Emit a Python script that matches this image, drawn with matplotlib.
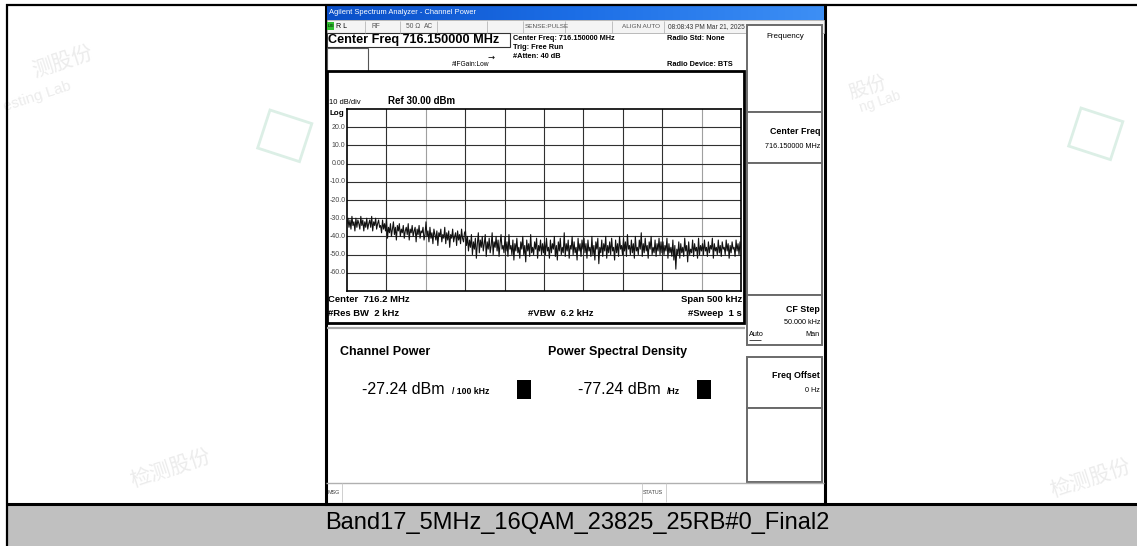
import matplotlib
matplotlib.use("Agg")
import matplotlib.pyplot as plt
import numpy as np
from matplotlib.patches import Rectangle

# ---------------- data ----------------
caption = "Band17_5MHz_16QAM_23825_25RB#0_Final2"
ref_level = 30.0          # dBm (top of grid)
db_per_div = 10.0
n_ydiv = 10
span_khz = 500.0
y_tick_labels = ["20.0", "10.0", "0.00", "-10.0", "-20.0", "-30.0", "-40.0", "-50.0", "-60.0"]
trace_dbm = [
    -33, -30, -35, -31, -36, -29, -34, -32, -37, -30, -35, -31, -33, -36, -29, -34, -31, -37, -32, -35,
    -30, -36, -33, -31, -35, -29, -37, -32, -34, -30, -36, -33, -31, -35, -34, -38, -31, -36, -33, -37,
    -30, -41, -35, -38, -33, -40, -36, -32, -39, -35, -42, -34, -37, -33, -40, -36, -38, -34, -41, -37,
    -35, -39, -33, -42, -36, -38, -34, -40, -37, -35, -43, -36, -39, -34, -41, -37, -38, -35, -42, -39,
    -32, -40, -37, -43, -35, -41, -38, -44, -36, -39, -42, -37, -45, -38, -40, -36, -43, -39, -41, -35,
    -44, -38, -42, -37, -46, -39, -41, -36, -43, -40, -38, -45, -37, -42, -39, -44, -36, -41, -43, -38,
    -37, -45, -40, -48, -42, -46, -39, -50, -43, -47, -41, -52, -44, -38, -49, -42, -46, -40, -48, -44,
    -39, -51, -43, -47, -41, -49, -45, -38, -50, -43, -46, -40, -48, -42, -51, -44, -39, -47, -45, -49,
    -40, -48, -43, -51, -39, -47, -45, -50, -42, -53, -44, -48, -41, -49, -46, -52, -43, -47, -40, -50,
    -45, -54, -42, -48, -44, -51, -39, -49, -46, -50, -43, -47, -41, -52, -45, -48, -42, -50, -44, -49,
    -43, -50, -41, -48, -46, -52, -42, -49, -44, -47, -40, -51, -45, -53, -43, -48, -41, -50, -46, -49,
    -38, -51, -44, -48, -42, -52, -45, -47, -40, -50, -43, -49, -46, -53, -41, -48, -44, -51, -42, -47,
    -41, -49, -44, -52, -42, -48, -46, -51, -40, -50, -45, -53, -43, -47, -41, -55, -46, -49, -42, -51,
    -44, -48, -40, -52, -45, -49, -43, -50, -41, -48, -46, -53, -42, -49, -44, -51, -40, -47, -45, -50,
    -41, -48, -43, -51, -39, -47, -45, -50, -42, -49, -44, -52, -40, -48, -46, -50, -42, -47, -38, -51,
    -44, -49, -41, -48, -45, -52, -43, -47, -40, -50, -46, -49, -42, -51, -44, -48, -41, -50, -43, -49,
    -43, -50, -45, -48, -41, -52, -44, -49, -46, -51, -42, -53, -45, -58, -47, -50, -43, -52, -44, -49,
    -46, -51, -41, -48, -45, -54, -43, -50, -47, -49, -42, -51, -44, -48, -46, -52, -41, -50, -45, -48,
    -44, -50, -42, -48, -46, -51, -43, -49, -45, -47, -41, -52, -44, -48, -46, -50, -42, -49, -45, -51,
    -43, -47, -46, -50, -42, -48, -44, -52, -45, -49, -43, -47, -46, -51, -42, -48, -44, -50, -43, -47,
]
channel_power = "-27.24 dBm"
psd = "-77.24 dBm"

# ---------------- figure ----------------
W, H = 1137, 546
fig = plt.figure(figsize=(W / 100, H / 100), dpi=100)
fig.patch.set_facecolor("white")
ax0 = fig.add_axes([0, 0, 1, 1])
ax0.set_xlim(0, W)
ax0.set_ylim(H, 0)
ax0.axis("off")

SANS = ["Liberation Sans", "DejaVu Sans"]
NARROW = ["Liberation Sans Narrow", "Liberation Sans", "DejaVu Sans"]
CJK = ["Noto Sans CJK SC", "DejaVu Sans"]


def rect(x0, y0, x1, y1, fc="none", ec="none", lw=1.0, z=1):
    ax0.add_patch(Rectangle((x0, y0), x1 - x0, y1 - y0, facecolor=fc, edgecolor=ec, lw=lw, zorder=z))


def hline(y, x0, x1, c="black", lw=1.0, z=3):
    ax0.plot([x0, x1], [y, y], color=c, lw=lw, zorder=z, solid_capstyle="butt")


def vline(x, y0, y1, c="black", lw=1.0, z=3):
    ax0.plot([x, x], [y0, y1], color=c, lw=lw, zorder=z, solid_capstyle="butt")


def txt(x, y, s, size=6, ha="left", va="center", weight="normal", color="black", fam=SANS, z=5, **kw):
    ax0.text(x, y, s, fontsize=size, ha=ha, va=va, fontweight=weight, color=color, family=fam, zorder=z, **kw)


# watermarks (very faint)
wm = "#ececec"
for (x, y, s, sz, ha) in [(62, 62, "测股份", 15, "center"), (2, 96, "esting Lab", 11, "left"),
                          (868, 88, "股份", 14, "center"), (880, 102, "ng Lab", 10, "center"),
                          (170, 468, "检测股份", 15, "center"), (1090, 478, "检测股份", 15, "center")]:
    txt(x, y, s, size=sz, ha=ha, color=wm, fam=CJK if not s[0].isascii() else SANS, rotation=18, z=0.5)
for (x, y) in [(292, 132), (1103, 130)]:
    ax0.add_patch(Rectangle((x - 22, y - 22), 44, 40, angle=18, facecolor="none", edgecolor="#dcefe6", lw=2, zorder=0.5))

# outer frame + caption band
rect(6.5, 505, W + 2, H + 2, fc="#c0c0c0", z=0.8)
hline(4.5, 6, W, lw=1.6)
vline(6.5, 4, H, lw=1.6)
hline(504, 6, W, lw=2.2)
txt(577, 523.5, caption, size=17, ha="center", fam=SANS)

# screenshot panel
rect(325.5, 5, 824.5, 503.5, fc="white", ec="black", lw=2.2, z=1)

# blue title bar (gradient)
grad = np.linspace(0, 1, 256).reshape(1, -1)
cmap = matplotlib.colors.LinearSegmentedColormap.from_list("bb", ["#0a4fc8", "#1c6ee6", "#3d8ff5"])
ax0.imshow(grad, extent=(326.5, 823.5, 20, 5.8), cmap=cmap, aspect="auto", zorder=2)
ax0.set_xlim(0, W)
ax0.set_ylim(H, 0)
txt(329, 13, "Agilent Spectrum Analyzer - Channel Power", size=5.4, color="white", fam=NARROW, z=6)

# status row
rect(326.5, 20, 823.5, 33, fc="#f4f4f4", ec="#b0b0b0", lw=0.6, z=2)
for x in [365, 400, 437, 487, 523, 565, 612, 664]:
    vline(x, 20.5, 32.5, c="#b8b8b8", lw=0.6)
rect(327, 21.5, 334, 30, fc="#2fbf2f", z=3)
txt(327.5, 26, "LXI", size=3.2, color="black", fam=NARROW, z=6)
txt(336, 26.5, "R L", size=5.0, fam=NARROW)
txt(371, 26.5, "RF", size=4.8, color="#555555", fam=NARROW)
txt(406, 26.5, "50 Ω", size=4.8, color="#555555", fam=NARROW)
txt(424, 26.5, "AC", size=4.8, color="#555555", fam=NARROW)
txt(525, 26.5, "SENSE:PULSE", size=4.6, color="#555555", fam=NARROW)
txt(622, 26.5, "ALIGN AUTO", size=4.6, color="#555555", fam=NARROW)
txt(668, 26.5, "08:08:43 PM Mar 21, 2025", size=4.7, color="#333333", fam=NARROW)

# center freq row
rect(326.5, 33, 510, 47, fc="white", ec="#333333", lw=0.8, z=2)
txt(328, 40.5, "Center Freq 716.150000 MHz", size=9.1, weight="bold", fam=SANS)
rect(327, 48, 368, 72, fc="white", ec="#555555", lw=0.8, z=2)
txt(452, 65, "#IFGain:Low", size=4.8, fam=NARROW)
txt(487, 57, "→", size=6, fam=["DejaVu Sans"])
txt(513, 38, "Center Freq: 716.150000 MHz", size=5.3, weight="bold", fam=NARROW)
txt(513, 47.5, "Trig: Free Run", size=5.3, weight="bold", fam=NARROW)
txt(513, 57, "#Atten: 40 dB", size=5.3, weight="bold", fam=NARROW)
txt(667, 38, "Radio Std: None", size=5.3, weight="bold", fam=NARROW)
txt(667, 65, "Radio Device: BTS", size=5.3, weight="bold", fam=NARROW)

# graph frame
rect(327, 71, 743.5, 323, fc="white", ec="black", lw=2.0, z=2)
hline(328, 327, 745, c="#a8a8a8", lw=1.6)
txt(329, 102.5, "10 dB/div", size=5.4, fam=NARROW)
txt(388, 101.5, "Ref 30.00 dBm", size=7.0, weight="bold", fam=SANS)
txt(329, 113.5, "Log", size=5.8, weight="bold", fam=NARROW)
txt(328, 300, "Center  716.2 MHz", size=6.8, weight="bold", fam=SANS)
txt(742, 300, "Span 500 kHz", size=6.8, weight="bold", ha="right", fam=SANS)
txt(327.5, 313, "#Res BW  2 kHz", size=6.8, weight="bold", fam=SANS)
txt(528, 313, "#VBW  6.2 kHz", size=6.8, weight="bold", fam=SANS)
txt(742, 313, "#Sweep  1 s", size=6.8, weight="bold", ha="right", fam=SANS)

# plot area
gx0, gx1, gy0, gy1 = 347, 741, 109, 291
axp = fig.add_axes([gx0 / W, 1 - gy1 / H, (gx1 - gx0) / W, (gy1 - gy0) / H])
axp.set_zorder(5)
bottom = ref_level - n_ydiv * db_per_div
freqs = np.linspace(-span_khz / 2, span_khz / 2, len(trace_dbm))
axp.set_xlim(-span_khz / 2, span_khz / 2)
axp.set_ylim(bottom, ref_level)
for i in range(1, 10):
    xv = -span_khz / 2 + i * span_khz / 10
    col = "#a0a0a0" if i in (2, 9) else "#303030"
    axp.axvline(xv, color=col, lw=0.8, zorder=1)
for i in range(1, n_ydiv):
    axp.axhline(bottom + i * db_per_div, color="#303030", lw=0.8, zorder=1)
axp.plot(freqs, trace_dbm, color="#111111", lw=0.8, zorder=3)
axp.set_xticks([])
axp.set_yticks([])
for s in axp.spines.values():
    s.set_color("black")
    s.set_linewidth(1.2)

yt_vals = [ref_level - (i + 1) * db_per_div for i in range(len(y_tick_labels))]
for lab, v in zip(y_tick_labels, yt_vals):
    ypix = gy0 + (ref_level - v) / (n_ydiv * db_per_div) * (gy1 - gy0)
    txt(345.5, ypix, lab, size=5.0, ha="right", color="#444444", fam=NARROW)

# measurement panel
txt(340, 352, "Channel Power", size=9.0, fam=SANS, weight="bold")
txt(548, 352, "Power Spectral Density", size=9.0, fam=SANS, weight="bold")
txt(362, 389, channel_power, size=11.5, fam=SANS)
txt(452, 391, "/ 100 kHz", size=6.3, fam=SANS, weight="bold")
rect(517, 380, 531, 399, fc="black", z=3)
txt(578, 389, psd, size=11.5, fam=SANS)
txt(667, 391, "/Hz", size=6.3, fam=SANS, weight="bold")
rect(697, 380, 711, 399, fc="black", z=3)

# right softkey panel
kc = "#6a6a6a"
rect(747, 25, 822, 112, fc="white", ec=kc, lw=1.4, z=2)
rect(747, 112, 822, 163, fc="white", ec=kc, lw=1.4, z=2)
rect(747, 163, 822, 295, fc="white", ec=kc, lw=1.4, z=2)
rect(747, 295, 822, 345, fc="white", ec=kc, lw=1.4, z=2)
rect(747, 357, 822, 408, fc="white", ec=kc, lw=1.4, z=2)
rect(747, 408, 822, 482, fc="white", ec=kc, lw=1.4, z=2)
txt(785, 37, "Frequency", size=5.8, ha="center", fam=SANS)
txt(820, 132, "Center Freq", size=6.4, ha="right", weight="bold", fam=NARROW)
txt(820, 147, "716.150000 MHz", size=5.2, ha="right", fam=NARROW)
txt(820, 309, "CF Step", size=6.4, ha="right", weight="bold", fam=NARROW)
txt(820, 322, "50.000 kHz", size=5.2, ha="right", fam=NARROW)
txt(749, 335, "Auto", size=5.2, fam=NARROW)
hline(339.5, 749, 761, lw=0.5)
txt(820, 335, "Man", size=5.2, ha="right", fam=NARROW)
txt(820, 375, "Freq Offset", size=6.4, ha="right", weight="bold", fam=NARROW)
txt(820, 391, "0 Hz", size=5.2, ha="right", fam=NARROW)

# MSG / STATUS bar
hline(483, 326, 824, c="#b0b0b0", lw=1.0)
vline(341.5, 483, 502, c="#c8c8c8", lw=0.6)
vline(642, 483, 502, c="#c8c8c8", lw=0.6)
vline(666, 483, 502, c="#c8c8c8", lw=0.6)
txt(328, 492.5, "MSG", size=3.9, color="#444444", fam=NARROW)
txt(643, 492.5, "STATUS", size=3.9, color="#444444", fam=NARROW)

fig.savefig("out.png", dpi=100)
